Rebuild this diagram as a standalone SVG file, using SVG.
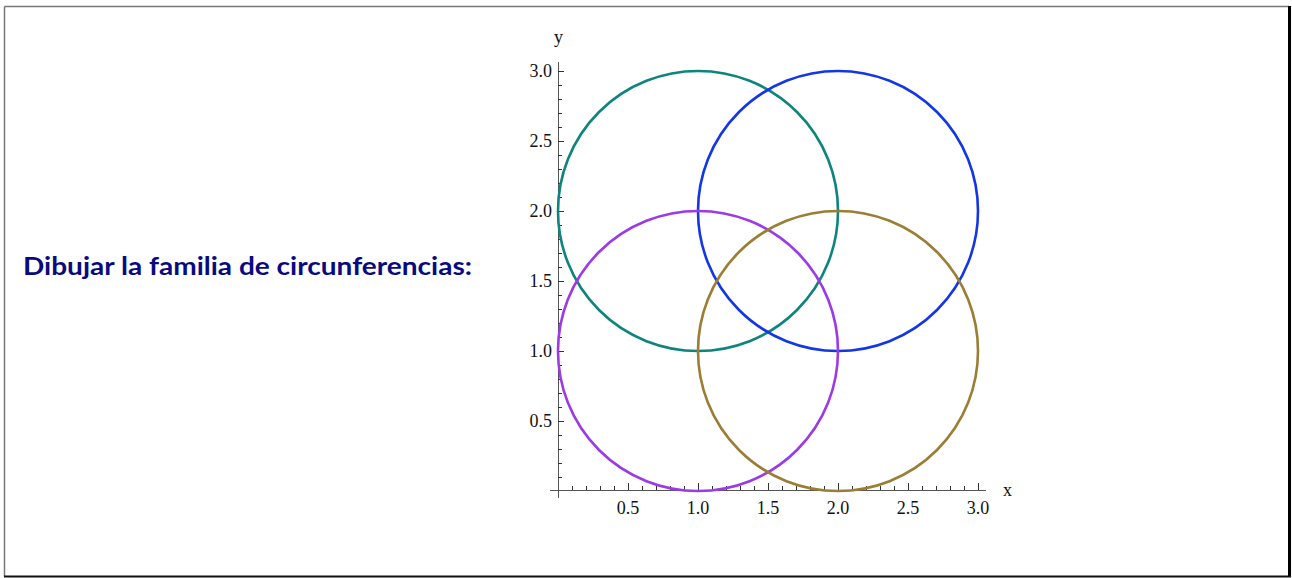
<svg xmlns="http://www.w3.org/2000/svg" width="1292" height="578" viewBox="0 0 1292 578">
<style>
.ax{stroke:#555;stroke-width:1;fill:none}
.tk{stroke:#333;stroke-width:1}
.lb{font-family:"Liberation Serif",serif;font-size:18px;fill:#111}
.c{fill:none;stroke-width:2.6}
</style>
<rect x="0" y="0" width="1292" height="578" fill="#fff"/>
<line x1="4.5" y1="6.5" x2="1289" y2="6.5" stroke="#777" stroke-width="1.5"/>
<line x1="4.5" y1="6.5" x2="4.5" y2="576" stroke="#777" stroke-width="1.5"/>
<line x1="1289.5" y1="6" x2="1289.5" y2="577" stroke="#000" stroke-width="3"/>
<line x1="4" y1="576.5" x2="1291" y2="576.5" stroke="#111" stroke-width="2"/>
<g id="title">
<text x="23" y="275" font-family="Lato,'Open Sans','Liberation Sans',sans-serif" font-weight="bold" font-size="25" fill="#0a0a80" textLength="449" lengthAdjust="spacingAndGlyphs">Dibujar la familia de circunferencias:</text>
</g>
<g id="axes">
<line class="ax" x1="550" y1="490.5" x2="986" y2="490.5"/>
<line class="ax" x1="558.5" y1="62" x2="558.5" y2="498"/>
<path class="tk" d="M572.5 490v-4M586.5 490v-4M600.5 490v-4M614.5 490v-4M628.5 490v-7M642.5 490v-4M656.5 490v-4M670.5 490v-4M684.5 490v-4M698.5 490v-7M712.5 490v-4M726.5 490v-4M740.5 490v-4M754.5 490v-4M768.5 490v-7M782.5 490v-4M796.5 490v-4M810.5 490v-4M824.5 490v-4M838.5 490v-7M852.5 490v-4M866.5 490v-4M880.5 490v-4M894.5 490v-4M908.5 490v-7M922.5 490v-4M936.5 490v-4M950.5 490v-4M964.5 490v-4M978.5 490v-7"/>
<path class="tk" d="M558 477.5h4M558 463.5h4M558 449.5h4M558 435.5h4M558 421.5h6M558 407.5h4M558 393.5h4M558 379.5h4M558 365.5h4M558 351.5h6M558 337.5h4M558 323.5h4M558 309.5h4M558 295.5h4M558 281.5h6M558 267.5h4M558 253.5h4M558 239.5h4M558 225.5h4M558 211.5h6M558 197.5h4M558 183.5h4M558 169.5h4M558 155.5h4M558 141.5h6M558 127.5h4M558 113.5h4M558 99.5h4M558 85.5h4M558 71.5h6"/>
<g class="lb" text-anchor="middle">
<text x="628" y="514">0.5</text><text x="698" y="514">1.0</text><text x="768" y="514">1.5</text><text x="838" y="514">2.0</text><text x="908" y="514">2.5</text><text x="978" y="514">3.0</text>
</g>
<g class="lb" text-anchor="end">
<text x="552" y="427">0.5</text><text x="552" y="357">1.0</text><text x="552" y="287">1.5</text><text x="552" y="217">2.0</text><text x="552" y="147">2.5</text><text x="552" y="77">3.0</text>
</g>
<text class="lb" x="1003" y="496">x</text>
<text class="lb" x="554" y="43">y</text>
</g>
<g id="circles">
<circle class="c" cx="698" cy="211" r="140" stroke="#0d857d"/>
<circle class="c" cx="838" cy="211" r="140" stroke="#1437e6"/>
<circle class="c" cx="698" cy="351" r="140" stroke="#9b3ae6"/>
<circle class="c" cx="838" cy="351" r="140" stroke="#9b7d34"/>
</g>
</svg>
